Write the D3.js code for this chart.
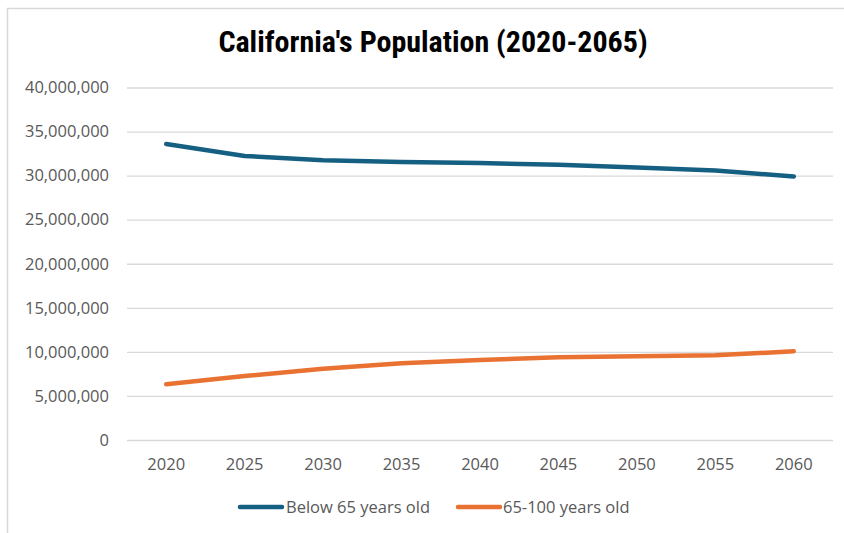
<!DOCTYPE html>
<html><head><meta charset="utf-8">
<script src="https://cdn.jsdelivr.net/npm/d3@7"></script>
<style>
html,body{margin:0;padding:0;background:#fff;}
svg{display:block;}
</style></head>
<body>
<svg id="chart" width="844" height="533"></svg>
<script>
const years = ["2020","2025","2030","2035","2040","2045","2050","2055","2060"];
const below65 = [33590000, 32230000, 31740000, 31550000, 31420000, 31240000, 30920000, 30580000, 29900000];
const age65to100 = [6320000, 7260000, 8090000, 8700000, 9080000, 9380000, 9500000, 9610000, 10070000];
const yTicks = [0, 5000000, 10000000, 15000000, 20000000, 25000000, 30000000, 35000000, 40000000];
const seriesNames = ["Below 65 years old", "65-100 years old"];
const seriesColors = ["#156082", "#E97132"];
const titleText = "California's Population (2020-2065)";

const svg = d3.select("#chart");
const W = 844, H = 533;

// frame
svg.append("rect").attr("x", 7.5).attr("y", 8.5).attr("width", W + 10).attr("height", H + 10)
  .attr("fill", "#fff").attr("stroke", "#d9d9d9").attr("stroke-width", 1.5);

const plot = {left: 127, right: 833, top: 87.5, bottom: 440};
const x = d3.scaleBand().domain(years).range([plot.left, plot.right]);
const y = d3.scaleLinear().domain([0, 40000000]).range([plot.bottom, plot.top]);

svg.append("text").attr("x", 433).attr("y", 52).attr("text-anchor", "middle")
  .attr("font-family", "'Liberation Sans Narrow', 'Roboto Condensed', 'DejaVu Sans Condensed', sans-serif")
  .attr("font-weight", "bold").attr("font-size", 30).attr("fill", "#000").text(titleText);

// gridlines
const yAxis = d3.axisLeft(y).tickValues(yTicks).tickFormat(d3.format(",")).tickSize(-(plot.right - plot.left)).tickPadding(18);
const gy = svg.append("g").attr("transform", `translate(${plot.left},0)`).call(yAxis);
gy.select(".domain").remove();
gy.selectAll(".tick line").attr("stroke", "#d9d9d9").attr("stroke-width", 1.3);
gy.selectAll(".tick text").attr("fill", "#595959").attr("font-size", 16.5)
  .attr("font-family", "'Open Sans', sans-serif");

const xAxis = d3.axisBottom(x).tickSize(0).tickPadding(18);
const gx = svg.append("g").attr("transform", `translate(0,${plot.bottom})`).call(xAxis);
gx.select(".domain").remove();
gx.selectAll(".tick text").attr("fill", "#595959").attr("font-size", 16.5)
  .attr("font-family", "'Open Sans', sans-serif");

const line = d3.line().x((d, i) => x(years[i]) + x.bandwidth() / 2).y(d => y(d));
[below65, age65to100].forEach((s, i) => {
  svg.append("path").datum(s).attr("d", line).attr("fill", "none")
    .attr("stroke", seriesColors[i]).attr("stroke-width", 4.5)
    .attr("stroke-linecap", "round").attr("stroke-linejoin", "round");
});

// legend
const legendItems = [{x: 240, tx: 286}, {x: 458, tx: 503}];
legendItems.forEach((it, i) => {
  svg.append("line").attr("x1", it.x).attr("x2", it.x + 42).attr("y1", 507).attr("y2", 507)
    .attr("stroke", seriesColors[i]).attr("stroke-width", 4.5).attr("stroke-linecap", "round");
  svg.append("text").attr("x", it.tx).attr("y", 507).attr("dy", "0.35em")
    .attr("font-family", "'Open Sans', sans-serif").attr("font-size", 16.5).attr("fill", "#595959")
    .text(seriesNames[i]);
});
</script>
</body></html>
